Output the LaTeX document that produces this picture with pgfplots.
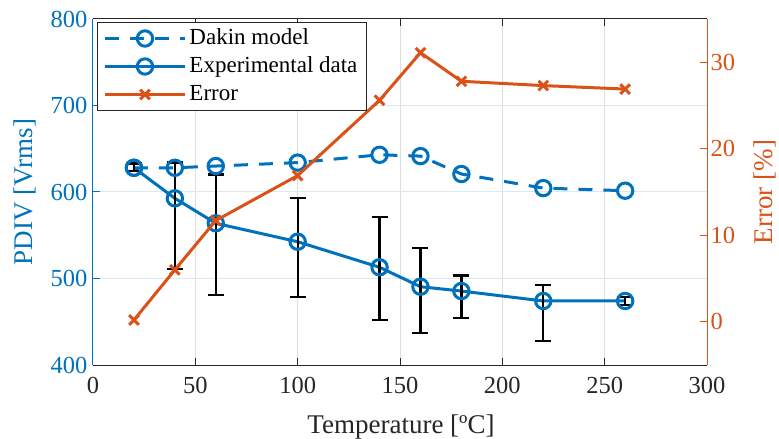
\documentclass[border=0pt]{standalone}
\usepackage{pgfplots}
\pgfplotsset{compat=1.18}
\usepackage{fontspec}
\setmainfont{Liberation Serif}

\definecolor{mblue}{RGB}{0,114,189}
\definecolor{morange}{RGB}{217,83,25}
\definecolor{mgray}{RGB}{38,38,38}

\pgfplotsset{
  common/.style={
    scale only axis, width=614bp, height=346bp,
    xmin=0, xmax=300, xtick={0,50,...,300},
    tick align=inside, major tick length=7bp,
    ticklabel style={font=\rmfamily\fontsize{24.5bp}{29bp}\selectfont},
    label style={font=\rmfamily\fontsize{27bp}{32bp}\selectfont},
  },
  dakin/.style={mblue, line width=3bp, dash pattern=on 14bp off 11bp,
    mark=o, mark size=7.7bp, mark options={solid, line width=3bp}},
  expt/.style={mblue, line width=3bp, solid,
    mark=o, mark size=7.7bp, mark options={solid, line width=3bp}},
  err/.style={morange, line width=3bp, solid,
    mark=x, mark size=6.8bp, mark options={solid, line width=3bp}},
}

\begin{document}
\begin{tikzpicture}
% PDIV (left axis)
\begin{axis}[common, name=ax,
  ymin=400, ymax=800, ytick={400,500,...,800},
  xticklabels={0,50,100,150,200,250,300},
  yticklabels={400,500,600,700,800},
  axis y line*=left,
  y axis line style={draw=mblue, line width=1bp},
  x axis line style={draw=mgray, line width=1bp},
  y tick style={draw=mblue, line width=1bp},
  x tick style={draw=mgray, line width=1bp},
  yticklabel style={color=mblue, xshift=-2bp},
  xticklabel style={color=mgray, yshift=-9bp},
  xmajorgrids, ymajorgrids,
  x grid style={draw=black!13, line width=1bp},
  y grid style={draw=mblue!15, line width=1bp},
  xlabel={Temperature [ºC]},
  xlabel style={color=mgray, at={(axis description cs:0.5016,-0.178)}, anchor=center},
  ylabel={PDIV [Vrms]},
  ylabel style={color=mblue, at={(axis description cs:-0.1107,0.5)}, anchor=center},
]
% Dakin model
\addplot[dakin] coordinates {
  (20,628) (40,628) (60,630) (100,634) (140,643) (160,641.5)
  (180,620.8) (220,604.5) (260,601.5)};
% Experimental data
\addplot[expt] coordinates {
  (20,628) (40,592.7) (60,563.8) (100,542.5) (140,513) (160,490.5)
  (180,485.5) (220,474) (260,474)};
% Measurement spread of the experimental data
\addplot[forget plot, draw=none, mark=none,
  error bars/.cd, y dir=both, y explicit,
  error bar style={draw=black, line width=2.2bp, solid},
  error mark options={draw=black, line width=2.2bp, mark size=8bp, solid, rotate=90}]
  coordinates {
  (20,628)   += (0,5)    -= (0,4)
  (40,592.7) += (0,41.3) -= (0,82.1)
  (60,563.8) += (0,56.5) -= (0,83.3)
  (100,542.5) += (0,50.2) -= (0,63.5)
  (140,513)  += (0,58.4) -= (0,61)
  (160,490.5) += (0,44.5) -= (0,53.1)
  (180,485.5) += (0,18)  -= (0,31.5)
  (220,474)  += (0,18.5) -= (0,46.3)
  (260,474)  += (0,5)    -= (0,4.6)
  };
\end{axis}

% Error (right axis)
\begin{axis}[common,
  ymin=-5, ymax=35, ytick={0,10,20,30},
  yticklabels={0,10,20,30},
  axis y line*=right, axis x line=none,
  y axis line style={draw=morange, line width=1bp},
  y tick style={draw=morange, line width=1bp},
  yticklabel style={color=morange},
  ylabel={Error [\%]},
  ylabel style={color=morange, at={(axis description cs:1.0945,0.5)}, anchor=center},
  legend cell align=left,
  legend image code/.code={\draw[mark repeat=2, mark phase=2, #1]
    plot coordinates {(0bp,0bp) (40bp,0bp) (80bp,0bp)};},
  legend style={at={(axis description cs:0.0065,0.9913)}, anchor=north west,
    draw=mgray, line width=1bp, fill=white,
    font=\rmfamily\fontsize{23bp}{27bp}\selectfont, text=black,
    inner xsep=6bp, inner ysep=2bp,
    nodes={text height=17bp, text depth=5bp, inner sep=3bp}},
]
\addlegendimage{dakin}
\addlegendentry{Dakin model}
\addlegendimage{expt}
\addlegendentry{Experimental data}
\addplot[err] coordinates {
  (20,0.2) (40,6.0) (60,11.7) (100,16.9) (140,25.6) (160,31.1)
  (180,27.8) (220,27.3) (260,26.9)};
\addlegendentry{Error}
\end{axis}

\pgfresetboundingbox
\path (ax.south west) ++(-93bp,-74bp) coordinate (bbl);
\path (ax.north east) ++(72bp,19bp) coordinate (bur);
\path (bbl) rectangle (bur);
\end{tikzpicture}
\end{document}
